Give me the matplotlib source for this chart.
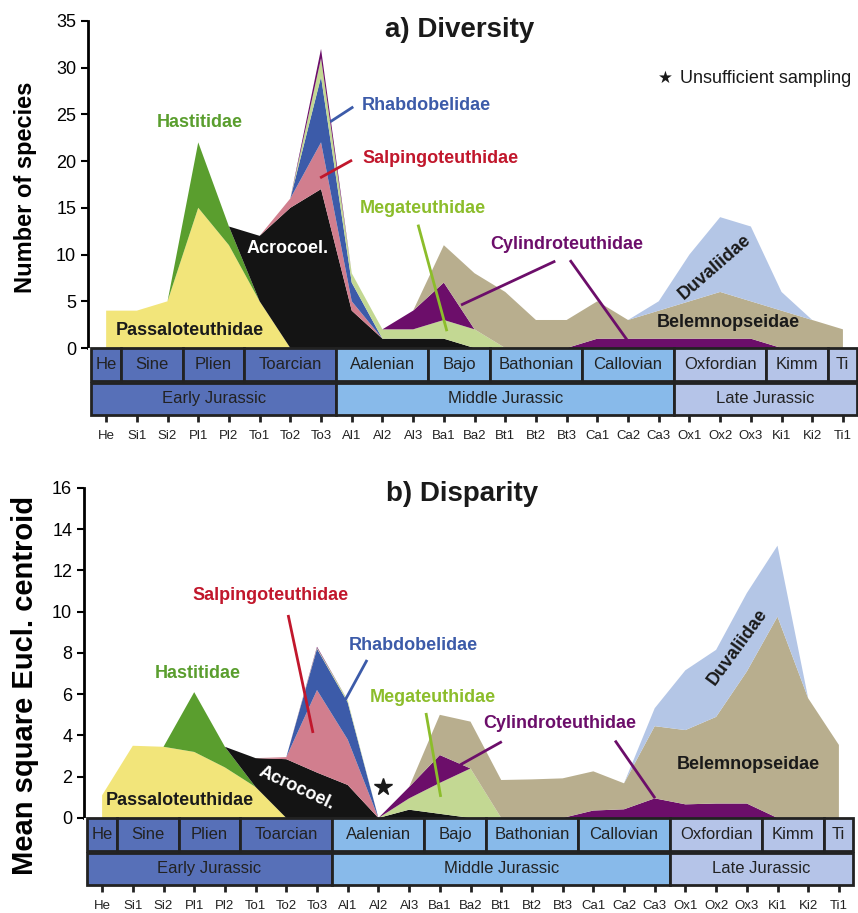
import numpy as np
import matplotlib
matplotlib.use('Agg')
import matplotlib.pyplot as plt
from matplotlib.patches import Rectangle

plt.rcParams['font.family'] = ['Liberation Sans', 'DejaVu Sans']

# Substages (x axis)
substages = ['He', 'Si1', 'Si2', 'Pl1', 'Pl2', 'To1', 'To2', 'To3', 'Al1', 'Al2', 'Al3',
             'Ba1', 'Ba2', 'Bt1', 'Bt2', 'Bt3', 'Ca1', 'Ca2', 'Ca3', 'Ox1', 'Ox2', 'Ox3',
             'Ki1', 'Ki2', 'Ti1']

# Stages and epochs (name, first substage index, last substage index)
stages = [('He', 0, 0), ('Sine', 1, 2), ('Plien', 3, 4), ('Toarcian', 5, 7),
          ('Aalenian', 8, 10), ('Bajo', 11, 12), ('Bathonian', 13, 15),
          ('Callovian', 16, 18), ('Oxfordian', 19, 21), ('Kimm', 22, 23), ('Ti', 24, 24)]
epochs = [('Early Jurassic', 0, 7), ('Middle Jurassic', 8, 18), ('Late Jurassic', 19, 24)]

# a) Diversity - number of species per family
div_passalo  = [4, 4, 5, 15, 11, 5, 0, 0, 0, 0, 0, 0, 0, 0, 0, 0, 0, 0, 0, 0, 0, 0, 0, 0, 0]
div_hastit   = [0, 0, 0, 7, 2, 0, 0, 0, 0, 0, 0, 0, 0, 0, 0, 0, 0, 0, 0, 0, 0, 0, 0, 0, 0]
div_acro     = [0, 0, 0, 0, 0, 7, 15, 17, 4, 1, 1, 1, 0, 0, 0, 0, 0, 0, 0, 0, 0, 0, 0, 0, 0]
div_salpingo = [0, 0, 0, 0, 0, 0, 1, 5, 1, 0, 0, 0, 0, 0, 0, 0, 0, 0, 0, 0, 0, 0, 0, 0, 0]
div_rhabdo   = [0, 0, 0, 0, 0, 0, 0, 7, 2, 0, 0, 0, 0, 0, 0, 0, 0, 0, 0, 0, 0, 0, 0, 0, 0]
div_mega     = [0, 0, 0, 0, 0, 0, 0, 2, 1, 1, 1, 2, 2, 0, 0, 0, 0, 0, 0, 0, 0, 0, 0, 0, 0]
div_cylindro = [0, 0, 0, 0, 0, 0, 0, 1, 0, 0, 2, 4, 0, 0, 0, 0, 1, 1, 1, 1, 1, 1, 0, 0, 0]
div_belemnop = [0, 0, 0, 0, 0, 0, 0, 0, 0, 0, 0, 4, 6, 6, 3, 3, 4, 2, 3, 4, 5, 4, 4, 3, 2]
div_duval    = [0, 0, 0, 0, 0, 0, 0, 0, 0, 0, 0, 0, 0, 0, 0, 0, 0, 0, 1, 5, 8, 8, 2, 0, 0]

# b) Disparity - mean square Euclidean distance to centroid per family
disp_passalo  = [1.1, 3.5, 3.45, 3.2, 2.45, 1.5, 0, 0, 0, 0, 0, 0, 0, 0, 0, 0, 0, 0, 0, 0, 0, 0, 0, 0, 0]
disp_hastit   = [0, 0, 0, 2.9, 1.0, 0, 0, 0, 0, 0, 0, 0, 0, 0, 0, 0, 0, 0, 0, 0, 0, 0, 0, 0, 0]
disp_acro     = [0, 0, 0, 0, 0, 1.4, 2.85, 2.2, 1.6, 0, 0.4, 0.2, 0, 0, 0, 0, 0, 0, 0, 0, 0, 0, 0, 0, 0]
disp_salpingo = [0, 0, 0, 0, 0, 0, 0.1, 4.0, 2.2, 0, 0, 0, 0, 0, 0, 0, 0, 0, 0, 0, 0, 0, 0, 0, 0]
disp_rhabdo   = [0, 0, 0, 0, 0, 0, 0, 2.0, 1.8, 0, 0, 0, 0, 0, 0, 0, 0, 0, 0, 0, 0, 0, 0, 0, 0]
disp_mega     = [0, 0, 0, 0, 0, 0, 0, 0.05, 0.1, 0, 0.55, 1.5, 2.4, 0, 0, 0, 0, 0, 0, 0, 0, 0, 0, 0, 0]
disp_cylindro = [0, 0, 0, 0, 0, 0, 0, 0.05, 0, 0, 0.55, 1.35, 0, 0, 0, 0, 0.36, 0.42, 0.95, 0.66, 0.7, 0.7, 0, 0, 0]
disp_belemnop = [0, 0, 0, 0, 0, 0, 0, 0, 0, 0, 0, 1.95, 2.27, 1.84, 1.87, 1.92, 1.9, 1.26, 3.5, 3.6, 4.2, 6.4, 9.76, 5.8, 3.54]
disp_duval    = [0, 0, 0, 0, 0, 0, 0, 0, 0, 0, 0, 0, 0, 0, 0, 0, 0, 0, 0.87, 2.9, 3.25, 3.8, 3.44, 0, 0]

family_colors = ['#F2E57A', '#5A9E2E', '#141414', '#D17E8E', '#3C5BA9',
                 '#C3D893', '#6C0E6A', '#B8AE8E', '#B4C6E6']
epoch_colors = ['#5770B8', '#88BAEA', '#B5C4E8']

XLIM = (-0.59, 24.46)


def draw_strat(ax):
    ax.set_xlim(*XLIM)
    ax.set_ylim(0, 1)
    for s in ['top', 'right', 'left', 'bottom']:
        ax.spines[s].set_visible(False)
    ax.set_yticks([])
    ax.set_xticks(range(len(substages)))
    ax.set_xticklabels(substages, fontsize=9.5)
    ax.tick_params(axis='x', length=5, width=2, pad=6, colors='#222222')

    def colour_of(first):
        for k, (_, a, b) in enumerate(epochs):
            if a <= first <= b:
                return epoch_colors[k]

    for name, a, b in stages:
        x0 = max(a - 0.5, XLIM[0])
        x1 = min(b + 0.5, XLIM[1])
        ax.add_patch(Rectangle((x0, 0.5), x1 - x0, 0.5, facecolor=colour_of(a),
                               edgecolor='#222222', lw=2, clip_on=False))
        ax.text((x0 + x1) / 2, 0.75, name, ha='center', va='center', fontsize=12, color='#222222')
    for k, (name, a, b) in enumerate(epochs):
        x0 = max(a - 0.5, XLIM[0])
        x1 = min(b + 0.5, XLIM[1])
        ax.add_patch(Rectangle((x0, 0.0), x1 - x0, 0.48, facecolor=epoch_colors[k],
                               edgecolor='#222222', lw=2, clip_on=False))
        ax.text((x0 + x1) / 2, 0.24, name, ha='center', va='center', fontsize=12, color='#222222')


def style_main(ax, ymax, ystep):
    ax.set_xlim(*XLIM)
    ax.set_ylim(0, ymax)
    for s in ['top', 'right', 'bottom']:
        ax.spines[s].set_visible(False)
    ax.spines['left'].set_linewidth(2)
    ax.set_xticks([])
    ax.set_yticks(np.arange(0, ymax + 0.1, ystep))
    ax.tick_params(axis='y', length=5, width=1.5, labelsize=13)


def leader(ax, p0, p1, color):
    ax.plot([p0[0], p1[0]], [p0[1], p1[1]], color=color, lw=2, solid_capstyle='butt')


fig = plt.figure(figsize=(8.58, 9.13), dpi=100)

# ---------- a) Diversity ----------
ax1 = fig.add_axes([0.1026, 0.6188, 0.8963, 0.3584])
ax1s = fig.add_axes([0.1026, 0.5455, 0.8963, 0.0734])
x = np.arange(len(substages))
ax1.stackplot(x, div_passalo, div_hastit, div_acro, div_salpingo, div_rhabdo,
              div_mega, div_cylindro, div_belemnop, div_duval,
              colors=family_colors, lw=0)
style_main(ax1, 35, 5)
ax1.set_ylabel('Number of species', fontsize=17, fontweight='bold')
ax1.yaxis.set_label_coords(-0.067, 0.49)
draw_strat(ax1s)

ax1.text(11.53, 34.0, 'a) Diversity', ha='center', va='center', fontsize=20, fontweight='bold', color='#1a1a1a')
ax1.text(18.2, 28.8, '★', ha='center', va='center', fontsize=12, color='#1a1a1a')
ax1.text(18.7, 28.8, 'Unsufficient sampling', ha='left', va='center', fontsize=13, color='#1a1a1a')

ax1.text(3.06, 24.1, 'Hastitidae', ha='center', va='center', fontsize=13, fontweight='bold', color='#5A9E2E')
ax1.text(8.34, 25.9, 'Rhabdobelidae', ha='left', va='center', fontsize=13, fontweight='bold', color='#3C5BA9')
leader(ax1, (8.05, 25.8), (7.3, 24.2), '#3C5BA9')
ax1.text(8.34, 20.3, 'Salpingoteuthidae', ha='left', va='center', fontsize=13, fontweight='bold', color='#C1172C')
leader(ax1, (8.01, 20.1), (6.97, 18.2), '#C1172C')
ax1.text(8.27, 14.9, 'Megateuthidae', ha='left', va='center', fontsize=13, fontweight='bold', color='#8CBD2B')
leader(ax1, (10.16, 13.2), (11.1, 1.8), '#8CBD2B')
ax1.text(12.5, 11.1, 'Cylindroteuthidae', ha='left', va='center', fontsize=13, fontweight='bold', color='#6C0E6A')
leader(ax1, (14.63, 9.3), (11.56, 4.6), '#6C0E6A')
leader(ax1, (15.11, 9.4), (16.97, 0.86), '#6C0E6A')
ax1.text(5.9, 10.7, 'Acrocoel.', ha='center', va='center', fontsize=13, fontweight='bold', color='white')
ax1.text(2.74, 1.9, 'Passaloteuthidae', ha='center', va='center', fontsize=13, fontweight='bold', color='#1a1a1a')
ax1.text(19.84, 8.7, 'Duvaliidae', ha='center', va='center', fontsize=13, fontweight='bold', color='#1a1a1a', rotation=41)
ax1.text(20.26, 2.7, 'Belemnopseidae', ha='center', va='center', fontsize=13, fontweight='bold', color='#1a1a1a')

# ---------- b) Disparity ----------
ax2 = fig.add_axes([0.0979, 0.1041, 0.8963, 0.3615])
ax2s = fig.add_axes([0.0979, 0.0307, 0.8963, 0.0734])
ax2.stackplot(x, disp_passalo, disp_hastit, disp_acro, disp_salpingo, disp_rhabdo,
              disp_mega, disp_cylindro, disp_belemnop, disp_duval,
              colors=family_colors, lw=0)
style_main(ax2, 16, 2)
ax2.set_ylabel('Mean square Eucl. centroid', fontsize=21, fontweight='bold')
ax2.yaxis.set_label_coords(-0.058, 0.40)
draw_strat(ax2s)

ax2.text(11.73, 15.7, 'b) Disparity', ha='center', va='center', fontsize=20, fontweight='bold', color='#1a1a1a')
ax2.plot([9.15], [1.5], marker='*', markersize=13, color='#1a1a1a', lw=0)

ax2.text(3.13, 6.98, 'Hastitidae', ha='center', va='center', fontsize=13, fontweight='bold', color='#5A9E2E')
ax2.text(5.47, 10.8, 'Salpingoteuthidae', ha='center', va='center', fontsize=13, fontweight='bold', color='#C1172C')
leader(ax2, (6.06, 9.84), (6.87, 4.12), '#C1172C')
ax2.text(10.13, 8.34, 'Rhabdobelidae', ha='center', va='center', fontsize=13, fontweight='bold', color='#3C5BA9')
leader(ax2, (8.63, 7.66), (7.92, 5.72), '#3C5BA9')
ax2.text(10.77, 5.83, 'Megateuthidae', ha='center', va='center', fontsize=13, fontweight='bold', color='#8CBD2B')
leader(ax2, (10.55, 5.09), (11.03, 1.02), '#8CBD2B')
ax2.text(14.92, 4.59, 'Cylindroteuthidae', ha='center', va='center', fontsize=13, fontweight='bold', color='#6C0E6A')
leader(ax2, (13.02, 3.7), (11.66, 2.57), '#6C0E6A')
leader(ax2, (16.71, 3.75), (18.01, 0.96), '#6C0E6A')
ax2.text(6.34, 1.44, 'Acrocoel.', ha='center', va='center', fontsize=13, fontweight='bold', color='white', rotation=-25)
ax2.text(2.54, 0.87, 'Passaloteuthidae', ha='center', va='center', fontsize=13, fontweight='bold', color='#1a1a1a')
ax2.text(20.7, 8.3, 'Duvaliidae', ha='center', va='center', fontsize=13, fontweight='bold', color='#1a1a1a', rotation=54)
ax2.text(21.04, 2.57, 'Belemnopseidae', ha='center', va='center', fontsize=13, fontweight='bold', color='#1a1a1a')

fig.savefig('out.png', dpi=100)
